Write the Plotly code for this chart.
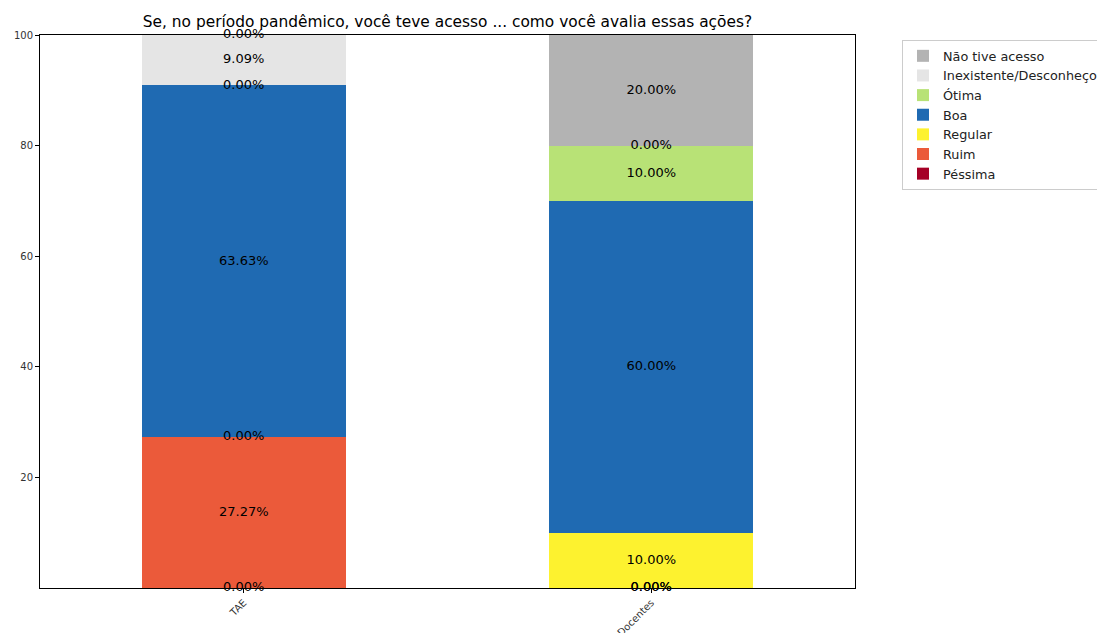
import plotly.graph_objects as go

categories = ["TAE", "Docentes"]

# Evaluation levels, stacked bottom to top
levels = ["Péssima", "Ruim", "Regular", "Boa", "Ótima", "Inexistente/Desconheço", "Não tive acesso"]
colors = ["#a50026", "#eb5a3a", "#fdf22f", "#1f6ab2", "#b8e276", "#e5e5e5", "#b3b3b3"]

pessima = [0.00, 0.00]
ruim = [27.27, 0.00]
regular = [0.00, 10.00]
boa = [63.63, 60.00]
otima = [0.00, 10.00]
inexistente = [9.09, 0.00]
nao_acesso = [0.00, 20.00]

series = [pessima, ruim, regular, boa, otima, inexistente, nao_acesso]

title = "Se, no período pandêmico, você teve acesso ... como você avalia essas ações?"
font_family = "DejaVu Sans"

fig = go.Figure()

for name, vals, col in zip(levels, series, colors):
    fig.add_trace(go.Bar(
        x=categories, y=vals, name=name,
        marker=dict(color=col, line=dict(width=0)),
        width=0.5,
    ))

# Value labels centred on each segment (zero segments sit on the boundary)
lab_x, lab_y, lab_t = [], [], []
for ci, cat in enumerate(categories):
    base = 0.0
    for vals in series:
        v = vals[ci]
        lab_x.append(cat)
        lab_y.append(base + v / 2)
        lab_t.append(f"{v:.2f}%")
        base += v

fig.add_trace(go.Scatter(
    x=lab_x, y=lab_y, text=lab_t, mode="text",
    textfont=dict(family=font_family, size=13, color="black"),
    showlegend=False, hoverinfo="skip", cliponaxis=False,
))

fig.update_layout(
    barmode="stack",
    width=1097, height=633,
    margin=dict(l=40, r=242, t=35, b=45, autoexpand=False),
    paper_bgcolor="white", plot_bgcolor="white",
    font=dict(family=font_family, color="#222"),
    title=dict(text=title, x=(40 + 815 / 2) / 1097, xanchor="center",
               y=1 - 22 / 633, yanchor="middle",
               font=dict(family=font_family, size=15.4, color="black")),
    legend=dict(
        x=(902 - 40) / 815, y=(588 - 40) / 553, xanchor="left", yanchor="top",
        traceorder="reversed",
        bordercolor="#cccccc", borderwidth=1, bgcolor="white",
        font=dict(family=font_family, size=12.8, color="#222"),
        tracegroupgap=0, itemwidth=30,
    ),
    xaxis=dict(
        range=[-0.5, 1.5], showgrid=False, zeroline=False, automargin=False,
        showline=True, linecolor="black", linewidth=1, mirror=True,
        ticks="outside", ticklen=4, tickcolor="black", tickangle=-45,
        tickfont=dict(family=font_family, size=10, color="#333"),
    ),
    yaxis=dict(
        range=[0, 100], showgrid=False, zeroline=False, automargin=False,
        showline=True, linecolor="black", linewidth=1, mirror=True,
        ticks="outside", ticklen=4, tickcolor="black",
        tickvals=[20, 40, 60, 80, 100],
        tickfont=dict(family=font_family, size=10, color="#333"),
    ),
)

fig.write_html("out.html")
